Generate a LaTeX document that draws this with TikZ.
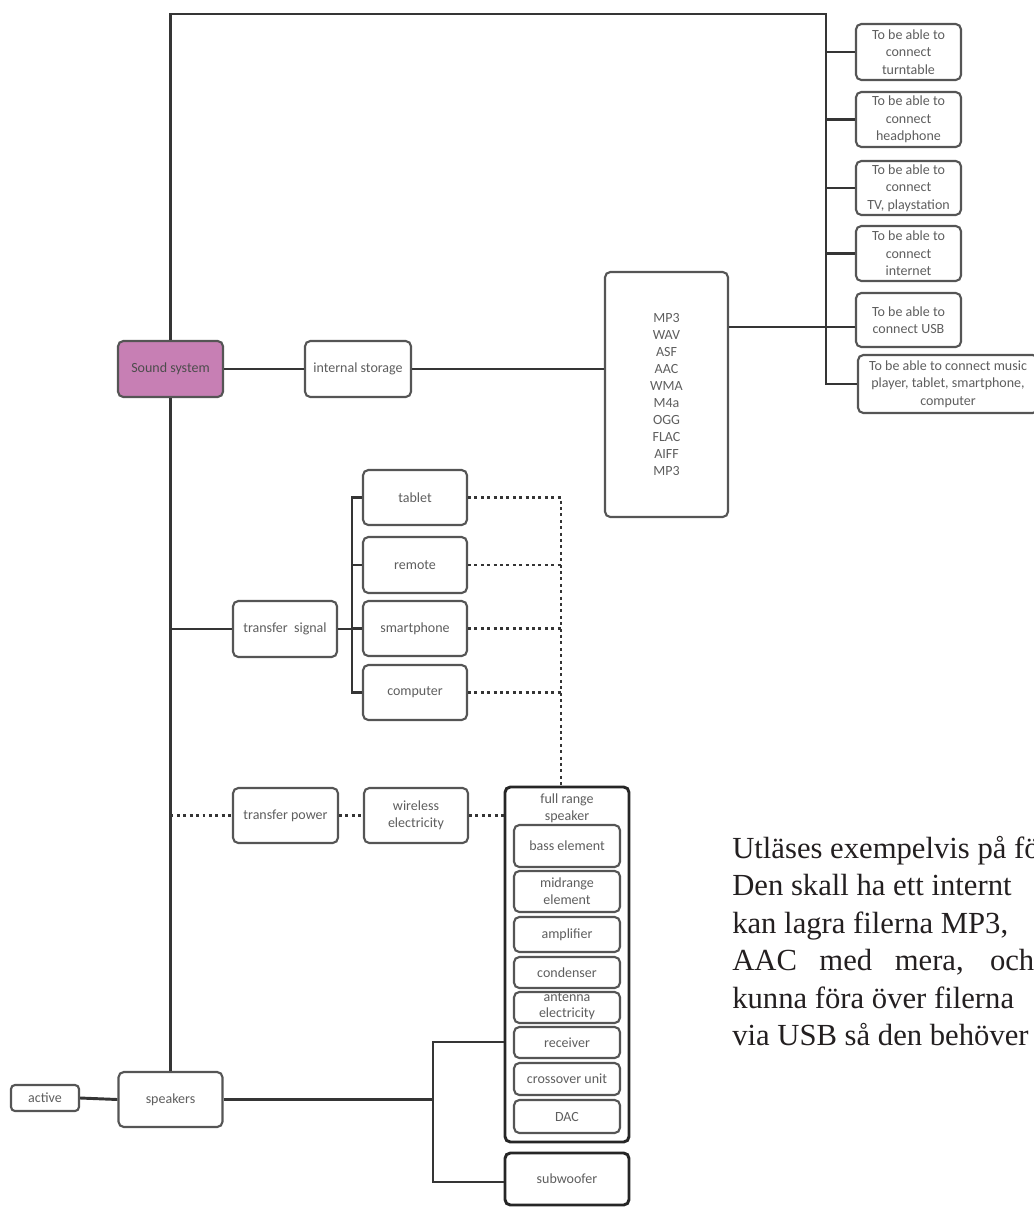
\documentclass[tikz,border=0pt]{standalone}
\usepackage{fontspec}
\newfontfamily\carl{Carlito}
\newfontfamily\bodyserif{Liberation Serif}
\definecolor{boxc}{HTML}{555555}
\definecolor{linec}{HTML}{353535}
\definecolor{txtc}{HTML}{5E5E5E}
\definecolor{ssfill}{HTML}{C77FB4}
\definecolor{bodyc}{HTML}{231F20}
\begin{document}
\begin{tikzpicture}[x=0.75pt,y=-0.75pt,
  sz/.style 2 args={minimum width=#1*0.75pt, minimum height=#2*0.75pt},
  box/.style={draw=boxc, line width=1.6pt, rounded corners=4pt, fill=white, inner sep=0pt, align=center, font=\carl\fontsize{10.5}{13}\selectfont, text=txtc},
  bigbox/.style={box, draw=black!85, line width=2.2pt},
  lbl/.style={inner sep=0pt, align=center, font=\carl\fontsize{10.5}{12.5}\selectfont, text=txtc},
  conn/.style={draw=linec, line width=2.2pt},
  dots/.style={draw=linec, line width=2.2pt, dash pattern=on 2.2pt off 2.6pt},
  body/.style={anchor=base west, inner sep=0pt, text=bodyc, font=\bodyserif\fontsize{23}{28}\selectfont}]
\useasboundingbox (0,0) rectangle (1033,1209);

% right column
\node[box,sz={105}{56}] (t1) at (908.5,52) {To be able to\\connect\\turntable};
\node[box,sz={105}{55}] (t2) at (908.5,119.5) {To be able to\\connect\\headphone};
\node[box,sz={105}{54}] (t3) at (908.5,188) {To be able to\\connect\\TV, playstation};
\node[box,sz={105}{55}] (t4) at (908.5,253.5) {To be able to\\connect\\internet};
\node[box,sz={105}{54}] (t5) at (908.5,320) {To be able to\\connect USB};
\node[box,sz={180}{58}] (t6) at (948,384) {To be able to connect music\\player, tablet, smartphone,\\computer};

% main row
\node[box,sz={105}{56},fill=ssfill,text=black!70] (ss) at (170.5,369) {Sound system};
\node[box,sz={106}{56}] (is) at (358,369) {internal storage};
\node[box,sz={123}{245},font=\carl\fontsize{10.5}{12.7}\selectfont] (mp3) at (666.5,394.5) {MP3\\WAV\\ASF\\AAC\\WMA\\M4a\\OGG\\FLAC\\AIFF\\MP3};

% transfer signal group
\node[box,sz={104}{56}] (ts) at (285,629) {transfer~ signal};
\node[box,sz={104}{55}] (tab) at (415,497.5) {tablet};
\node[box,sz={104}{56}] (rem) at (415,565) {remote};
\node[box,sz={104}{55}] (sp) at (415,628.5) {smartphone};
\node[box,sz={104}{55}] (comp) at (415,692.5) {computer};

% transfer power group
\node[box,sz={105}{55}] (tp) at (285.5,815.5) {transfer power};
\node[box,sz={104}{55}] (we) at (416,815.5) {wireless\\electricity};

% full range speaker
\node[bigbox,sz={124}{355}] (frs) at (567,964.5) {};
\node[lbl] (frsT) at (567,808) {full range\\speaker};
\node[box,sz={106}{42}] (bass) at (567,846) {bass element};
\node[box,sz={106}{41}] (mid) at (567,891.5) {midrange\\element};
\node[box,sz={106}{35}] (amp) at (567,934.5) {amplifier};
\node[box,sz={106}{31}] (cond) at (567,972.5) {condenser};
\node[box,sz={106}{31}] (ant) at (567,1007.5) {};
\node[lbl,font=\carl\fontsize{10.5}{12.3}\selectfont] (antT) at (567,1006) {antenna\\electricity};
\node[box,sz={106}{31}] (rec) at (567,1042.5) {receiver};
\node[box,sz={106}{32}] (cross) at (567,1079) {crossover unit};
\node[box,sz={106}{33}] (dac) at (567,1116.5) {DAC};
\node[bigbox,sz={124}{52}] (sub) at (567,1179) {subwoofer};

% speakers
\node[box,sz={104}{55}] (spk) at (170.5,1099.5) {speakers};
\node[box,sz={68}{26},rounded corners=3pt] (act) at (45,1098) {active};

% connectors
\coordinate (tl) at (170.5,14);
\coordinate (tr) at (826,14);
\coordinate (rb) at (826,384);
\coordinate (usb) at (826,327);
\draw[conn] (ss.north) -- (tl) -- (tr) -- (rb) -- (t6.west);
\draw[conn] (tr|-t1.west) -- (t1.west);
\draw[conn] (tr|-t2.west) -- (t2.west);
\draw[conn] (tr|-t3.west) -- (t3.west);
\draw[conn] (tr|-t4.west) -- (t4.west);
\draw[conn] (mp3.east|-usb) -- (t5.west|-usb);
\draw[conn] (ss.east) -- (is.west);
\draw[conn] (is.east) -- (mp3.west|-is.east);
\draw[conn] (ss.south) -- (spk.north);
\draw[conn] (ss.south|-ts.west) -- (ts.west);

\coordinate (bk) at (352,0);
\draw[conn] (ts.east) -- (bk|-ts.east);
\draw[conn] (tab.west) -- (bk|-tab.west) -- (bk|-comp.west) -- (comp.west);
\draw[conn] (rem.west) -- (bk|-rem.west);
\draw[conn] (sp.west) -- (bk|-sp.west);

\coordinate (dv) at (561,0);
\draw[dots] (tab.east) -- (dv|-tab.east) -- (dv|-frs.north);
\draw[dots] (rem.east) -- (dv|-rem.east);
\draw[dots] (sp.east) -- (dv|-sp.east);
\draw[dots] (comp.east) -- (dv|-comp.east);

\draw[dots] (ss.south|-tp.west) -- (tp.west);
\draw[dots] (tp.east) -- (we.west);
\draw[dots] (we.east) -- (frs.west|-we.east);

\coordinate (fa) at (433,1042);
\coordinate (fb) at (433,1182);
\draw[conn] (spk.east) -- (fa|-spk.east);
\draw[conn] (frs.west|-fa) -- (fa) -- (fb) -- (sub.west|-fb);
\draw[conn] (act.east) -- (spk.west);

% body text (cut at the right edge)
\node[body] (b1) at (732,858) {Utläses exempelvis på fö};
\node[body] (b2) at (732,895.5) {Den skall ha ett internt};
\node[body] (b3) at (732,933) {kan lagra filerna MP3,};
\node[body] (b4) at (732,970.5) {\makebox[226.5pt][s]{AAC med mera, och}};
\node[body] (b5) at (732,1008) {kunna föra över filerna};
\node[body] (b6) at (732,1045.5) {via USB så den behöver};
\end{tikzpicture}
\end{document}
